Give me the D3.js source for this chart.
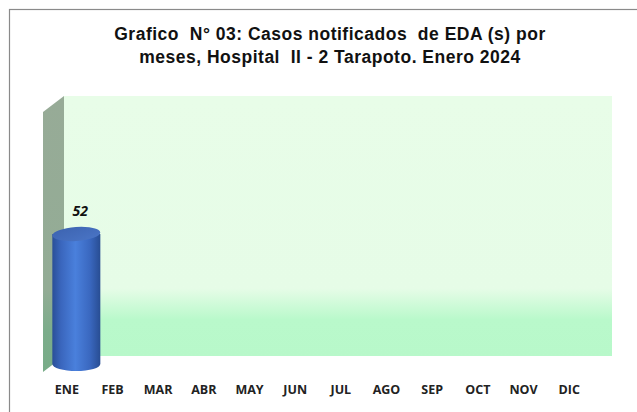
<!DOCTYPE html>
<html>
<head>
<meta charset="utf-8">
<script src="https://cdn.jsdelivr.net/npm/d3@7"></script>
<style>
  body { margin: 0; background: #fff; }
  svg { display: block; }
</style>
</head>
<body>
<svg width="637" height="412"></svg>
<script>
const WIDTH = 637;
const HEIGHT = 412;

// data
const months = ["ENE", "FEB", "MAR", "ABR", "MAY", "JUN", "JUL", "AGO", "SEP", "OCT", "NOV", "DIC"];
const cases = [52, null, null, null, null, null, null, null, null, null, null, null];
const titleLines = ["Grafico  N\u00b0 03: Casos notificados  de EDA (s) por", "meses, Hospital  II - 2 Tarapoto. Enero 2024"];

const svg = d3.select("svg");
const defs = svg.append("defs");

// front plane of the 3d box, and the depth offset
const front = { left: 43, right: 591, top: 112, bottom: 372 };
const depth = { dx: 21, dy: -16 };

const x = d3.scaleBand()
            .domain(months)
            .range([front.left, front.right])
            .paddingInner(0)
            .paddingOuter(0);

const y = d3.scaleLinear()
            .domain([0, 104])
            .range([front.bottom, front.top]);

// outer frame
svg.append("rect")
   .attr("x", 9.5).attr("y", 9.5)
   .attr("width", WIDTH + 10).attr("height", HEIGHT + 10)
   .attr("fill", "#fff")
   .attr("stroke", "#8a8a8a")
   .attr("stroke-width", 1.2);

// title
svg.append("text")
   .attr("x", 330)
   .attr("y", 40)
   .attr("text-anchor", "middle")
   .style("font-family", "Liberation Sans, Arial, sans-serif")
   .style("font-weight", "bold")
   .style("font-size", "17.5px")
   .style("letter-spacing", "0.5px")
   .style("white-space", "pre")
   .attr("fill", "#111")
   .selectAll("tspan")
   .data(titleLines)
   .enter().append("tspan")
   .attr("x", 330)
   .attr("dy", (d, i) => i === 0 ? 0 : 23)
   .text(d => d);

// gradients
const backGrad = defs.append("linearGradient")
                     .attr("id", "backGrad")
                     .attr("x1", 0).attr("y1", 0).attr("x2", 0).attr("y2", 1);
backGrad.append("stop").attr("offset", "0%").attr("stop-color", "#e8fde8");
backGrad.append("stop").attr("offset", "74%").attr("stop-color", "#e6fce7");
backGrad.append("stop").attr("offset", "86%").attr("stop-color", "#b9f9cb");
backGrad.append("stop").attr("offset", "100%").attr("stop-color", "#b8f8ca");

const sideGrad = defs.append("linearGradient")
                     .attr("id", "sideGrad")
                     .attr("x1", 0).attr("y1", 0).attr("x2", 0).attr("y2", 1);
sideGrad.append("stop").attr("offset", "0%").attr("stop-color", "#97ab97");
sideGrad.append("stop").attr("offset", "70%").attr("stop-color", "#93ac95");
sideGrad.append("stop").attr("offset", "85%").attr("stop-color", "#7cad8b");
sideGrad.append("stop").attr("offset", "100%").attr("stop-color", "#78ac88");

const cylGrad = defs.append("linearGradient")
                    .attr("id", "cylGrad")
                    .attr("x1", 0).attr("y1", 0).attr("x2", 1).attr("y2", 0);
cylGrad.append("stop").attr("offset", "0%").attr("stop-color", "#2a4f98");
cylGrad.append("stop").attr("offset", "18%").attr("stop-color", "#3a66bd");
cylGrad.append("stop").attr("offset", "48%").attr("stop-color", "#4a80dc");
cylGrad.append("stop").attr("offset", "78%").attr("stop-color", "#3a68c0");
cylGrad.append("stop").attr("offset", "100%").attr("stop-color", "#284d93");

const topGrad = defs.append("linearGradient")
                    .attr("id", "topGrad")
                    .attr("x1", 0).attr("y1", 0).attr("x2", 1).attr("y2", 1);
topGrad.append("stop").attr("offset", "0%").attr("stop-color", "#3c63b0");
topGrad.append("stop").attr("offset", "100%").attr("stop-color", "#4a75c6");

// back wall
svg.append("rect")
   .attr("x", front.left + depth.dx)
   .attr("y", front.top + depth.dy)
   .attr("width", front.right - front.left)
   .attr("height", front.bottom - front.top)
   .attr("fill", "url(#backGrad)");

// side wall
const side = [
  [front.left, front.top],
  [front.left + depth.dx, front.top + depth.dy],
  [front.left + depth.dx, front.bottom + depth.dy],
  [front.left, front.bottom]
];
svg.append("path")
   .attr("d", d3.line()(side) + "Z")
   .attr("fill", "url(#sideGrad)");

// cylinders, placed half way into the depth
const mid = { dx: depth.dx / 2, dy: depth.dy / 2 };
const barW = 48;
const ry = 7;
const bars = svg.append("g").attr("id", "bars");

const barData = months.map((m, i) => ({ month: m, value: cases[i] })).filter(d => d.value != null);

barData.forEach(d => {
  const cx = x(d.month) + x.bandwidth() / 2 + mid.dx;
  const yBase = y(0) + mid.dy;
  const yTop = y(d.value) + mid.dy;
  const xl = cx - barW / 2;
  const xr = cx + barW / 2;
  const g = bars.append("g");

  g.append("path")
   .attr("d", `M${xl},${yTop} L${xl},${yBase} A${barW / 2},${ry} 0 0 0 ${xr},${yBase} L${xr},${yTop} Z`)
   .attr("fill", "url(#cylGrad)");

  g.append("ellipse")
   .attr("cx", cx)
   .attr("cy", yTop)
   .attr("rx", barW / 2)
   .attr("ry", ry)
   .attr("transform", `rotate(-4,${cx},${yTop})`)
   .attr("fill", "url(#topGrad)");

  g.append("text")
   .attr("x", cx + 4)
   .attr("y", yTop - 18)
   .attr("text-anchor", "middle")
   .style("font-family", "Open Sans, DejaVu Sans, sans-serif")
   .style("font-weight", "bold")
   .style("font-style", "italic")
   .style("font-size", "14px")
   .attr("fill", "#111")
   .text(d.value);
});

// month labels
const xAxis = d3.axisBottom(x).tickSize(0).tickPadding(0);
const axisG = svg.append("g")
                 .attr("transform", `translate(1,${front.bottom + 13})`)
                 .call(xAxis);
axisG.select(".domain").remove();
axisG.selectAll("text")
     .style("font-family", "Open Sans, DejaVu Sans, sans-serif")
     .style("font-weight", "bold")
     .style("font-size", "12.5px")
     .attr("fill", "#222");
</script>
</body>
</html>
